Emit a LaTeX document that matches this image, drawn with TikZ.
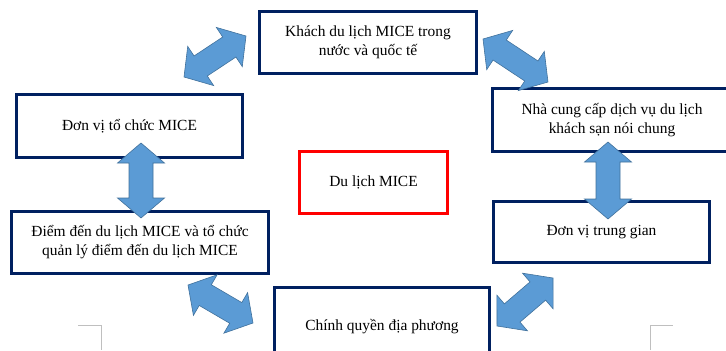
\documentclass[tikz,border=0pt]{standalone}
\usepackage{fontspec}
\setmainfont{Liberation Serif}
\usetikzlibrary{calc}

\definecolor{boxnavy}{RGB}{0,32,96}
\definecolor{micered}{RGB}{255,0,0}
\definecolor{arrowfill}{RGB}{91,155,213}
\definecolor{arrowline}{RGB}{65,113,156}
\definecolor{markgray}{RGB}{191,191,191}

\newcommand{\arrhead}{20bp}
\newcommand{\arrwing}{23.5bp}
\newcommand{\arrshaft}{12bp}
% double block arrow between two named coordinates
\newcommand{\dblarrow}[2]{%
  \draw[blockarrow] (#1)
    -- ($(#1)!\arrhead!(#2)!\arrwing!90:(#2)$)
    -- ($(#1)!\arrhead!(#2)!\arrshaft!90:(#2)$)
    -- ($(#2)!\arrhead!(#1)!\arrshaft!90:(#2)$)
    -- ($(#2)!\arrhead!(#1)!\arrwing!90:(#2)$)
    -- (#2)
    -- ($(#2)!\arrhead!(#1)!\arrwing!-90:(#2)$)
    -- ($(#2)!\arrhead!(#1)!\arrshaft!-90:(#2)$)
    -- ($(#1)!\arrhead!(#2)!\arrshaft!-90:(#2)$)
    -- ($(#1)!\arrhead!(#2)!\arrwing!-90:(#2)$)
    -- cycle;}

\begin{document}
\begin{tikzpicture}[x=1bp,y=-1bp,
  box/.style={draw=boxnavy, line width=3bp, fill=white, align=center,
    inner sep=0pt, font=\fontsize{15.5}{19}\selectfont},
  mainbox/.style={box, draw=micered},
  blockarrow/.style={fill=arrowfill, draw=arrowline, line width=0.6bp, line join=miter},
  pagemark/.style={draw=markgray, line width=0.8bp}]
\useasboundingbox (0,0) rectangle (726,350);
\clip (0,0) rectangle (726,350);

% Box: khach du lich
\node[box, minimum width=217bp, minimum height=62bp] (khach) at (368,42.5) {Khách du lịch MICE trong\\nước và quốc tế};
% Box: don vi to chuc
\node[box, minimum width=226bp, minimum height=63bp] (donvi) at (129.5,126) {Đơn vị tổ chức MICE};
% Box: nha cung cap
\node[box, minimum width=239bp, minimum height=63bp] (nhacc) at (612,120) {Nhà cung cấp dịch vụ du lịch\\khách sạn nói chung};
% Box: du lich MICE (centre)
\node[mainbox, minimum width=148bp, minimum height=62bp] (mice) at (373.5,182.5) {Du lịch MICE};
% Box: diem den
\node[box, minimum width=257bp, minimum height=62bp] (diemden) at (140,242.5) {Điểm đến du lịch MICE và tổ chức\\quản lý điểm đến du lịch MICE};
% Box: don vi trung gian
\node[box, minimum width=216bp, minimum height=61bp] (trunggian) at (601.5,232) {Đơn vị trung gian};
% Box: chinh quyen
\node[box, minimum width=215bp, minimum height=79bp] (chinhq) at (382,327) {Chính quyền địa phương};

% Arrow ends
\coordinate (dv-kh-a) at (184,77);
\coordinate (dv-kh-b) at (246,36);
\coordinate (kh-nc-a) at (483,39);
\coordinate (kh-nc-b) at (548,82);
\coordinate (dv-dd-a) at (141,143);
\coordinate (dv-dd-b) at (141,218);
\coordinate (nc-tg-a) at (608,142);
\coordinate (nc-tg-b) at (608,219);
\coordinate (dd-cq-a) at (188,285);
\coordinate (dd-cq-b) at (253,323);
\coordinate (cq-tg-a) at (497,326);
\coordinate (cq-tg-b) at (553,278);

% Arrows
\dblarrow{dv-kh-a}{dv-kh-b}
\dblarrow{kh-nc-a}{kh-nc-b}
\dblarrow{dv-dd-a}{dv-dd-b}
\dblarrow{nc-tg-a}{nc-tg-b}
\dblarrow{dd-cq-a}{dd-cq-b}
\dblarrow{cq-tg-a}{cq-tg-b}

% Page corner marks
\draw[pagemark] (78,325) -- (101,325) -- (101,350);
\draw[pagemark] (650,350) -- (650,325) -- (673,325);

\end{tikzpicture}
\end{document}
